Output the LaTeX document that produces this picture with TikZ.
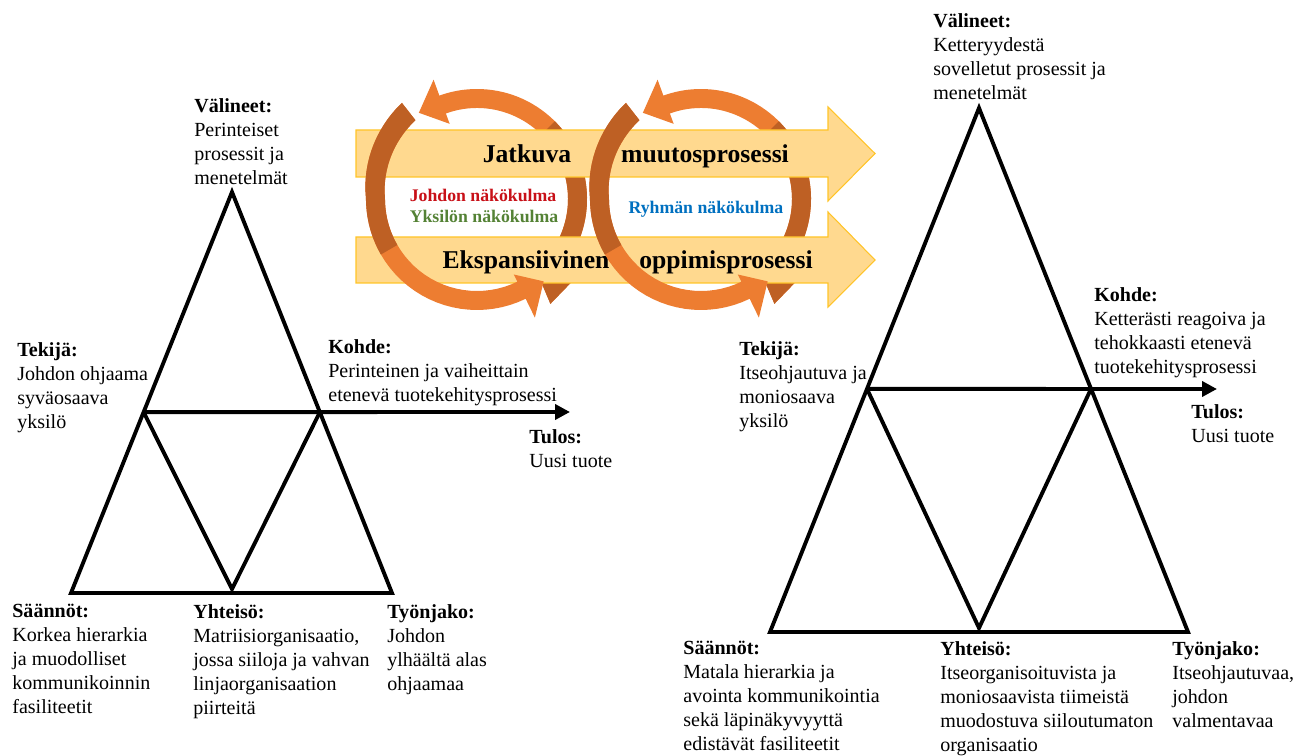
\documentclass[tikz,border=0pt]{standalone}
\usepackage{fontspec}
\setmainfont{Liberation Serif}
\usetikzlibrary{arrows.meta,calc}

\definecolor{arcorange}{RGB}{237,125,49}
\definecolor{arcdark}{RGB}{190,96,36}
\definecolor{bandfill}{RGB}{255,217,143}
\definecolor{bandline}{RGB}{255,196,40}
\definecolor{leadred}{RGB}{200,16,24}
\definecolor{indgreen}{RGB}{84,130,53}
\definecolor{teamblue}{RGB}{0,112,192}

\begin{document}
\begin{tikzpicture}[
    x=0.02cm, y=-0.02cm,
    tri/.style={line width=2.2pt, line join=miter},
    result/.style={line width=2.2pt, -{Triangle[length=8.5pt,width=8.5pt]}},
    lbl/.style={anchor=north west, inner sep=0pt, align=left, font=\fontsize{11.4}{13.66}\selectfont},
    band/.style={fill=bandfill, draw=bandline, line width=0.6pt},
    bandtext/.style={anchor=base, inner sep=0pt, font=\fontsize{14.6}{16}\selectfont\bfseries},
    view/.style={anchor=base, inner sep=0pt, font=\fontsize{10.1}{12}\selectfont\bfseries}
]
\useasboundingbox (0,0) rectangle (1310,756);

% Centres of the two circular arrows
\coordinate (c1) at (477,199);
\coordinate (c2) at (701,199);

% Back halves of the circular arrows
\foreach \c in {c1,c2} {
  \begin{scope}[shift={(\c)}]
    \fill[arcorange] (55:128) -- (40:126) -- (30:110)
      arc[start angle=30, end angle=-110, radius=110]
      -- (-110:127) -- (-124:104) -- (-110:80)
      -- (-110:91) arc[start angle=-110, end angle=50, radius=91] -- cycle;
    \fill[arcdark] (55:128) -- (40:126) -- (30:110)
      arc[start angle=30, end angle=-45, radius=110]
      -- (-45:91) arc[start angle=-45, end angle=50, radius=91] -- cycle;
  \end{scope}
}

% Process arrows
\draw[band] (356,130) -- (828,130) -- (828,107) -- (875,153.5) -- (828,201) -- (828,177) -- (356,177) -- cycle;
\draw[band] (356,237) -- (828,237) -- (828,212) -- (875,260) -- (828,307) -- (828,283) -- (356,283) -- cycle;

\node[bandtext] (jatkuva) at (527,163) {Jatkuva};
\node[bandtext] (muutos) at (705,163) {muutosprosessi};
\node[bandtext] (ekspan) at (526,269) {Ekspansiivinen};
\node[bandtext] (oppimis) at (726,269) {oppimisprosessi};

% Front halves of the circular arrows (widening towards the tail)
\foreach \c in {c1,c2} {
  \begin{scope}[shift={(\c)}]
    \fill[arcorange] plot[domain=232:64, samples=40] (\x:{111+11*max(\x-180,0)/52})
      -- (64:132) -- (51:106) -- (64:84)
      -- plot[domain=64:232, samples=40] (\x:{92+8*max(\x-180,0)/52}) -- cycle;
    \fill[arcdark] plot[domain=232:150, samples=25] (\x:{111+11*max(\x-180,0)/52})
      -- plot[domain=150:232, samples=25] (\x:{92+8*max(\x-180,0)/52}) -- cycle;
  \end{scope}
}

% Points of view
\node[view, text=leadred] (johto) at (483,202) {Johdon näkökulma};
\node[view, text=indgreen] (yksilo) at (484,223) {Yksilön näkökulma};
\node[view, text=teamblue] (ryhma) at (706,214) {Ryhmän näkökulma};

% Left activity triangle
\coordinate (l-top) at (232,192);
\coordinate (l-bl) at (71,593);
\coordinate (l-br) at (392,593);
\coordinate (l-ml) at ($(l-top)!0.549!(l-bl)$);
\coordinate (l-mr) at ($(l-top)!0.549!(l-br)$);
\coordinate (l-mb) at (232,589);
\coordinate (l-out) at (570,412);

\draw[tri] (l-top) -- (l-bl) -- (l-br) -- cycle;
\draw[tri] (l-ml) -- (l-mb) -- (l-mr);
\draw[result] (l-ml) -- (l-out);

\node[lbl] (l-tool) at (194,98) {\textbf{Välineet:}\\Perinteiset\\prosessit ja\\menetelmät};
\node[lbl] (l-subj) at (17,342) {\textbf{Tekijä:}\\Johdon ohjaama\\syväosaava\\yksilö};
\node[lbl] (l-obj) at (328,339) {\textbf{Kohde:}\\Perinteinen ja vaiheittain\\etenevä tuotekehitysprosessi};
\node[lbl] (l-res) at (529,429) {\textbf{Tulos:}\\Uusi tuote};
\node[lbl] (l-rule) at (12,604) {\textbf{Säännöt:}\\Korkea hierarkia\\ja muodolliset\\kommunikoinnin\\fasiliteetit};
\node[lbl] (l-comm) at (193,604) {\textbf{Yhteisö:}\\Matriisiorganisaatio,\\jossa siiloja ja vahvan\\linjaorganisaation\\piirteitä};
\node[lbl] (l-div) at (387,604) {\textbf{Työnjako:}\\Johdon\\ylhäältä alas\\ohjaamaa};

% Right activity triangle
\coordinate (r-top) at (979,108);
\coordinate (r-bl) at (770,632);
\coordinate (r-br) at (1188,632);
\coordinate (r-ml) at ($(r-top)!0.536!(r-bl)$);
\coordinate (r-mr) at ($(r-top)!0.536!(r-br)$);
\coordinate (r-mb) at (979,628);
\coordinate (r-out) at (1217,389);

\draw[tri] (r-top) -- (r-bl) -- (r-br) -- cycle;
\draw[tri] (r-ml) -- (r-mb) -- (r-mr);
\draw[result] (r-ml) -- (r-out);

\node[lbl] (r-tool) at (933,13) {\textbf{Välineet:}\\Ketteryydestä\\sovelletut prosessit ja\\menetelmät};
\node[lbl] (r-obj) at (1094,287) {\textbf{Kohde:}\\Ketterästi reagoiva ja\\tehokkaasti etenevä\\tuotekehitysprosessi};
\node[lbl] (r-subj) at (739,341) {\textbf{Tekijä:}\\Itseohjautuva ja\\moniosaava\\yksilö};
\node[lbl] (r-res) at (1191,404) {\textbf{Tulos:}\\Uusi tuote};
\node[lbl] (r-rule) at (683,641) {\textbf{Säännöt:}\\Matala hierarkia ja\\avointa kommunikointia\\sekä läpinäkyvyyttä\\edistävät fasiliteetit};
\node[lbl] (r-comm) at (940,641) {\textbf{Yhteisö:}\\Itseorganisoituvista ja\\moniosaavista tiimeistä\\muodostuva siiloutumaton\\organisaatio};
\node[lbl] (r-div) at (1172,641) {\textbf{Työnjako:}\\Itseohjautuvaa,\\johdon\\valmentavaa};

\end{tikzpicture}
\end{document}
